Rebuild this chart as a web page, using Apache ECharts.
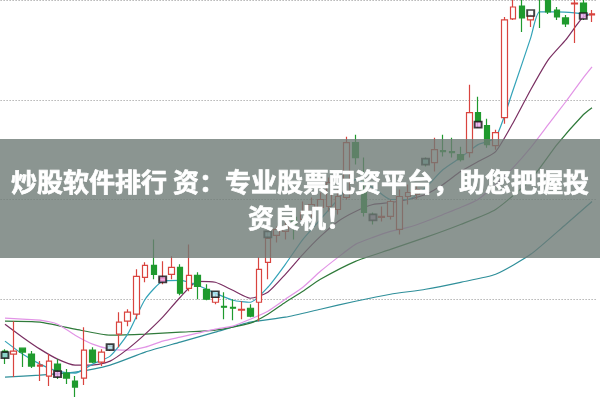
<!DOCTYPE html>
<html>
<head>
<meta charset="utf-8">
<script src="https://cdn.jsdelivr.net/npm/echarts@6/dist/echarts.min.js"></script>
<style>html,body{margin:0;padding:0;background:#fff;}#c{width:600px;height:399px;}</style>
</head>
<body>
<div id="c"></div>
<script>
// candles: [open, close, low, high]
const candles = [
[9.48,9.42,9.35,9.50],[9.45,9.48,9.22,9.78],[9.51,9.47,9.32,9.51],[9.45,9.33,9.31,9.48],
[9.33,9.34,9.18,9.38],[9.23,9.38,9.13,9.45],[9.35,9.29,9.20,9.40],[9.26,9.21,9.15,9.30],
[9.18,9.12,9.02,9.23],[9.21,9.49,9.14,9.72],[9.49,9.37,9.36,9.52],[9.37,9.47,9.33,9.50],
[9.50,9.53,9.48,9.55],[9.65,9.77,9.52,9.87],[9.78,9.87,9.73,9.90],[9.85,10.23,9.80,10.30],
[10.22,10.34,10.17,10.37],[10.34,10.25,10.20,10.60],[10.19,10.21,10.15,10.38],[10.25,10.32,10.20,10.43],
[10.32,10.06,10.04,10.35],[10.11,10.24,10.08,10.55],[10.24,10.13,10.00,10.27],[10.10,10.00,9.99,10.15],
[9.97,10.02,9.95,10.05],[9.93,9.92,9.80,10.07],[9.92,9.91,9.79,10.00],[9.89,9.90,9.80,9.98],
[9.91,9.83,9.82,9.95],[9.97,10.30,9.78,10.42],[10.37,10.61,10.20,10.68],[10.64,10.70,10.57,10.73],
[10.68,10.73,10.60,10.80],[10.82,10.75,10.60,10.87],[10.80,10.87,10.75,10.98],[10.88,10.95,10.82,11.02],
[10.92,11.00,10.88,11.07],[10.93,11.17,10.88,11.22],[10.90,11.03,10.85,11.10],[11.02,11.57,11.00,11.63],
[11.57,11.42,11.35,11.65],[11.10,10.87,10.83,11.42],[10.85,10.80,10.75,10.87],[10.82,10.83,10.78,10.93],
[10.83,10.98,10.80,11.00],[10.70,11.03,10.65,11.10],[11.03,11.07,10.95,11.15],[11.05,11.10,11.00,11.16],
[11.40,11.36,11.33,11.42],[11.37,11.50,11.28,11.62],[11.49,11.48,11.43,11.65],[11.48,11.47,11.42,11.62],
[11.45,11.40,11.38,11.53],[11.47,11.87,11.42,12.15],[11.87,11.78,11.72,12.03],[11.74,11.55,11.52,11.81],
[11.54,11.67,11.50,11.70],[11.82,12.80,11.76,12.83],[12.81,12.93,12.80,13.05],[12.94,12.82,12.68,13.05],
[12.80,12.84,12.73,12.86],[13.12,13.03,12.72,13.20],[13.05,12.88,12.86,13.10],[12.90,12.83,12.80,12.93],
[12.82,12.76,12.73,12.85],[12.96,12.97,12.57,13.05],[12.97,12.87,12.80,13.02],[12.85,12.86,12.78,12.90]
];
const categories = candles.map((c, i) => 'D' + (i + 1));

// periodic box markers: [index, value, kind]
const markers = [[0,9.44,'c'],[6,9.25,'p'],[12,9.52,'c'],[18,10.20,'p'],[24,10.05,'c'],[30,10.65,'c'],
[42,10.82,'p'],[48,11.38,'c'],[54,11.75,'p'],[60,12.87,'w'],[66,12.84,'p']];

// moving average lines: [index, value]
const ma5 = [[0,9.58],[2,9.45],[4,9.35],[6,9.28],[8,9.26],[10,9.35],[12,9.43],[14,9.65],[16,10.00],[18,10.18],
[20,10.19],[22,10.14],[24,10.06],[26,9.99],[28,9.97],[30,10.12],[32,10.35],[34,10.60],[36,10.80],[38,11.00],
[40,11.20],[42,11.12],[44,11.00],[46,11.00],[48,11.12],[50,11.30],[52,11.42],[54,11.55],[56,11.62],[58,12.10],
[60,12.62],[61,12.88],[63,12.88],[65,12.87],[67,12.85]];
const ma10 = [[0,9.75],[2,9.62],[4,9.50],[6,9.40],[8,9.34],[10,9.34],[12,9.38],[14,9.50],[16,9.65],[18,9.82],
[20,10.02],[22,10.18],[24,10.17],[26,10.09],[28,10.01],[30,10.07],[32,10.25],[34,10.45],[36,10.63],[38,10.78],
[40,10.88],[42,10.95],[44,10.97],[46,11.00],[48,11.05],[50,11.15],[52,11.28],[54,11.38],[56,11.48],[58,11.77],
[60,12.10],[62,12.40],[64,12.60],[65,12.72],[66,12.83],[67,12.86]];
const ma20 = [[0,9.81],[2,9.80],[4,9.79],[6,9.75],[8,9.64],[10,9.55],[12,9.50],[14,9.49],[16,9.52],[18,9.58],
[20,9.62],[22,9.66],[24,9.70],[26,9.73],[28,9.80],[30,9.88],[32,10.00],[34,10.12],[36,10.28],[38,10.42],
[40,10.55],[42,10.62],[44,10.68],[46,10.72],[48,10.78],[50,10.85],[52,10.92],[54,11.00],[56,11.15],[58,11.32],
[60,11.52],[62,11.75],[64,11.98],[66,12.22],[67,12.33]];
const ma30 = [[0,9.78],[4,9.77],[8,9.70],[12,9.64],[16,9.65],[20,9.67],[24,9.69],[28,9.76],[30,9.85],[32,9.97],
[34,10.08],[36,10.20],[40,10.38],[44,10.50],[48,10.62],[52,10.75],[56,10.90],[60,11.20],[63,11.55],[66,11.85],[67,11.92]];
const ma60 = [[0,9.22],[4,9.24],[8,9.27],[12,9.34],[16,9.47],[20,9.57],[24,9.67],[28,9.77],[32,9.82],[36,9.90],
[40,9.98],[44,10.05],[48,10.10],[52,10.17],[56,10.25],[60,10.45],[64,10.75],[67,10.98]];

const title1 = '炒股软件排行 资：专业股票配资平台，助您把握投';
const title2 = '资良机！';

const chart = echarts.init(document.getElementById('c'), null, {renderer: 'canvas'});
const markerFill = {c: '#a8e4f0', p: '#f0a8f0', w: '#ffffff'};
const lineSeries = (name, data, color, w) => ({
  name, type: 'line', data, symbol: 'none', showSymbol: false, smooth: 0.2, z: 3,
  lineStyle: {color, width: w}, silent: true
});
const textStyle = (text, y) => ({text, x: 300, y, align: 'center', verticalAlign: 'middle',
  font: 'bold 26px "Noto Sans CJK SC"', fill: '#ffffff', stroke: '#ffffff', lineWidth: 0.7,
  shadowColor: 'rgba(0,0,0,0.35)', shadowBlur: 2});
chart.setOption({
  animation: false,
  backgroundColor: '#ffffff',
  grid: {left: 0.6, width: 595.8, top: 0, height: 400},
  xAxis: {type: 'category', data: categories, boundaryGap: true, show: false},
  yAxis: {type: 'value', min: 9, max: 13, interval: 1,
    axisLine: {show: false}, axisTick: {show: false}, axisLabel: {show: false},
    splitLine: {show: true, lineStyle: {color: '#8f8f8f', width: 1, type: [1, 2]}}},
  series: [
    lineSeries('MA60', ma60, '#2f8f9a', 1.2),
    lineSeries('MA30', ma30, '#2f7a3a', 1.2),
    lineSeries('MA20', ma20, '#e294e6', 1.2),
    lineSeries('MA10', ma10, '#7a2f62', 1.2),
    lineSeries('MA5', ma5, '#33a3b8', 1.2),
    {
      name: 'K', type: 'candlestick', data: candles, barWidth: 6, z: 4, clip: true,
      itemStyle: {color: '#ffffff', color0: '#1f9a2e', borderColor: '#d9443f', borderColor0: '#1f9a2e', borderWidth: 1.2}
    },
    {
      name: 'mark', type: 'scatter', z: 5, symbol: 'rect', symbolSize: [7, 6],
      data: markers.map(m => ({value: [m[0], m[1]], itemStyle: {color: markerFill[m[2]], borderColor: '#111', borderWidth: 1.8}}))
    }
  ],
  graphic: [
    {type: 'rect', left: 0, top: 139, z: 100, shape: {width: 600, height: 119}, style: {fill: 'rgba(110,122,118,0.8)'}},
    {type: 'text', z: 101, style: textStyle(title1, 182)},
    {type: 'text', z: 101, style: textStyle(title2, 218)}
  ]
});
</script>
</body>
</html>
